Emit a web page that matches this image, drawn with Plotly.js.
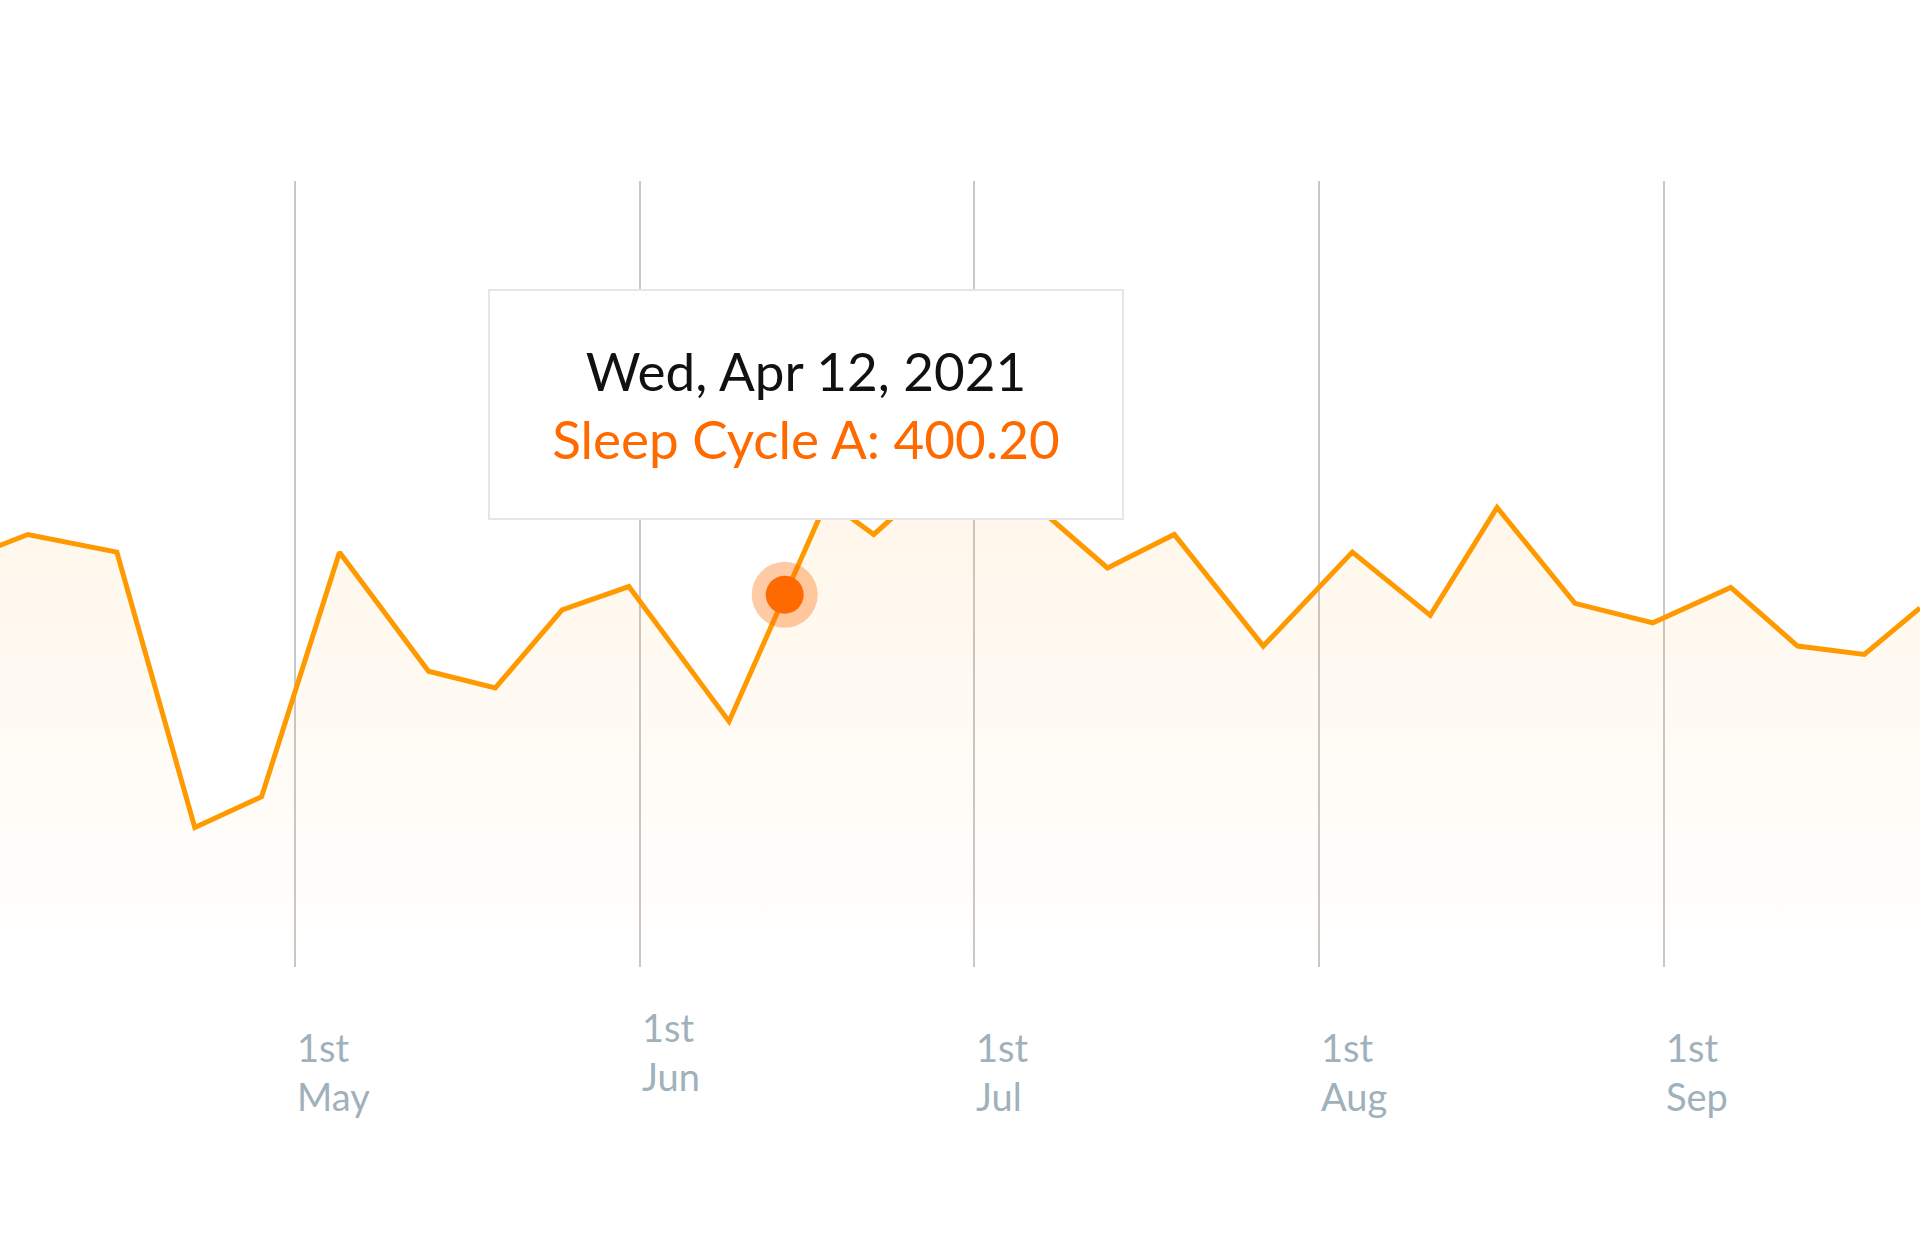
<!DOCTYPE html>
<html>
<head>
<meta charset="utf-8">
<script src="https://cdn.plot.ly/plotly-3.0.1.min.js"></script>
<style>html,body{margin:0;padding:0;background:#fff}#chart{width:1920px;height:1246px}</style>
</head>
<body>
<div id="chart"></div>
<script>
// weekly readings, Sleep Cycle A
const dates = ['2021-04-04','2021-04-07','2021-04-15','2021-04-22','2021-04-28','2021-05-05','2021-05-13',
  '2021-05-19','2021-05-25','2021-05-31','2021-06-09','2021-06-14','2021-06-17','2021-06-18','2021-06-22',
  '2021-06-29','2021-07-03','2021-07-13','2021-07-19','2021-07-27','2021-08-04','2021-08-11','2021-08-17',
  '2021-08-24','2021-08-31','2021-09-07','2021-09-13','2021-09-19','2021-09-24'];
const values = [451,465,446,150,183,446,318,300,384,409,264,400.2,480,500,465,540,533,429,465,345,446,378,494,391,370,408,345,336,386];

const monthTicks = ['2021-05-01','2021-06-01','2021-07-01','2021-08-01','2021-09-01'];
const tickLabels = ['1st<br>May','1st<br>Jun','1st<br>Jul','1st<br>Aug','1st<br>Sep'];
const tickRaised = [false,true,false,false,false];

const hoverDate = '2021-06-14';
const hoverValue = 400.2;

const traces = [
  {
    x: dates, y: values, type: 'scatter', mode: 'lines',
    line: {color: '#ff9900', width: 5},
    fill: 'tozeroy',
    fillgradient: {type: 'vertical', colorscale: [[0, 'rgba(255,153,0,0)'], [1, 'rgba(255,153,0,0.09)']]},
    hoverinfo: 'skip'
  },
  {
    x: [hoverDate], y: [hoverValue], type: 'scatter', mode: 'markers',
    marker: {color: 'rgba(255,106,0,0.35)', size: 66}, hoverinfo: 'skip'
  },
  {
    x: [hoverDate], y: [hoverValue], type: 'scatter', mode: 'markers',
    marker: {color: '#ff6a00', size: 38}, hoverinfo: 'skip'
  }
];

const annotations = monthTicks.map((d, i) => ({
  x: d, xref: 'x', xanchor: 'left', yref: 'paper', y: tickRaised[i] ? -0.045 : -0.07, yanchor: 'top',
  text: tickLabels[i], showarrow: false, align: 'left',
  font: {family: 'Lato, sans-serif', size: 38, color: '#9fb1bb'}
}));
annotations.push({
  xref: 'paper', x: 0.42, yref: 'paper', y: 0.716, xanchor: 'center', yanchor: 'middle',
  text: 'Wed, Apr 12, 2021<br><span style="color:#ff6a00">Sleep Cycle A: 400.20</span>',
  showarrow: false, bgcolor: '#ffffff', bordercolor: '#e6e6e6', borderwidth: 2,
  width: 630, height: 225,
  font: {family: 'Lato, sans-serif', size: 53, color: '#111111'}
});

const layout = {
  width: 1920, height: 1246,
  margin: {l: 0, r: 0, t: 181, b: 279},
  paper_bgcolor: '#fff', plot_bgcolor: '#fff',
  showlegend: false,
  xaxis: {
    type: 'date', range: ['2021-04-04 12:00', '2021-09-24 00:00'],
    tickvals: monthTicks, showticklabels: false,
    showgrid: true, gridcolor: '#c8c8c8', gridwidth: 2.5, zeroline: false, showline: false
  },
  yaxis: {range: [0, 845], visible: false, showgrid: false, zeroline: false},
  annotations: annotations
};

Plotly.newPlot('chart', traces, layout, {displayModeBar: false, staticPlot: true});
</script>
</body>
</html>
